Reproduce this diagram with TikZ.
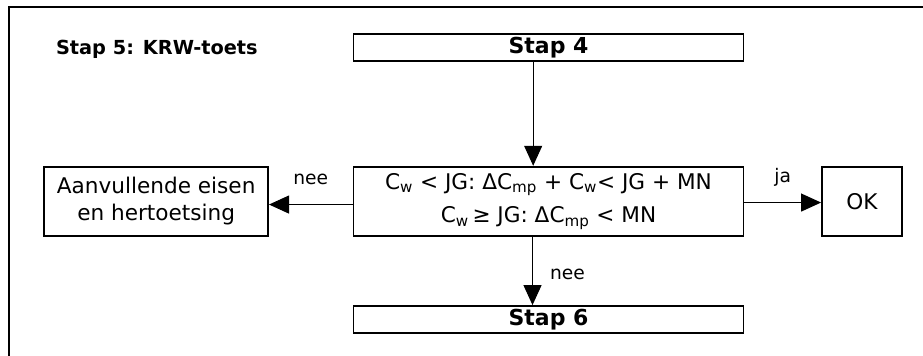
\documentclass[tikz,border=0pt]{standalone}
\usepackage{fontspec}
\setmainfont{DejaVu Sans}
\usetikzlibrary{positioning,arrows.meta}

\begin{document}
\begin{tikzpicture}[x=0.75pt, y=-0.75pt, thick,
	main/.style = {draw, line width=1.4pt, inner sep=0pt, align=center, font=\fontsize{16.2}{20.25}\selectfont},
	wide/.style = {main, minimum width=292.5pt, minimum height=20.5pt, font=\bfseries\fontsize{16.5}{20}\selectfont},
	lbl/.style = {inner sep=0pt, text depth=0pt, font=\fontsize{14}{16}\selectfont},
	>={Triangle[length=15pt,width=13.5pt]}]
	\useasboundingbox (0,0) rectangle (923,355);
	\draw[line width=1.3pt] (8.8,360) |- (930,6.8);
	\node[anchor=base west, inner sep=0pt, font=\bfseries\fontsize{14.5}{17}\selectfont] (title) at (55.5,54.3) {Stap 5: KRW-toets};
	
	\node[wide] (stap4) at (548.5,47.3) {Stap 4};
	\node[main, minimum width=292.5pt, minimum height=51.75pt, font=\fontsize{16.2}{25}\selectfont] (check) at (548.5,201.2)
		{C\textsubscript{w} < JG: ΔC\textsubscript{mp} + C\textsubscript{w}< JG + MN\\ C\textsubscript{w}\,≥ JG: ΔC\textsubscript{mp} < MN};
	\node[main, minimum width=167.8pt, minimum height=51.75pt] (extra) at (156.2,201.2) {Aanvullende eisen\\en hertoetsing};
	\node[main, minimum width=60pt, minimum height=51.75pt] (ok) at (862,201.2) {OK};
	\node[wide] (stap6) at (548.5,319.7) {Stap 6};
	
	\draw[->, line width=0.8pt] ([xshift=-11.5pt]stap4.south) -- ([xshift=-11.5pt]check.north);
	\draw[->, line width=0.8pt] ([yshift=-2.5pt]check.west) -- node [lbl, midway, above=15pt] {nee} ([yshift=-2.5pt]extra.east);
	\draw[->, line width=0.8pt] ([yshift=-1pt]check.east) -- node [lbl, midway, above=15pt] {ja} ([yshift=-1pt]ok.west);
	\draw[->, line width=0.8pt] ([xshift=-12pt]check.south) -- node [lbl, midway, right=12.75pt, yshift=-2.5pt] {nee} ([xshift=-12pt]stap6.north);
\end{tikzpicture}
\end{document}
